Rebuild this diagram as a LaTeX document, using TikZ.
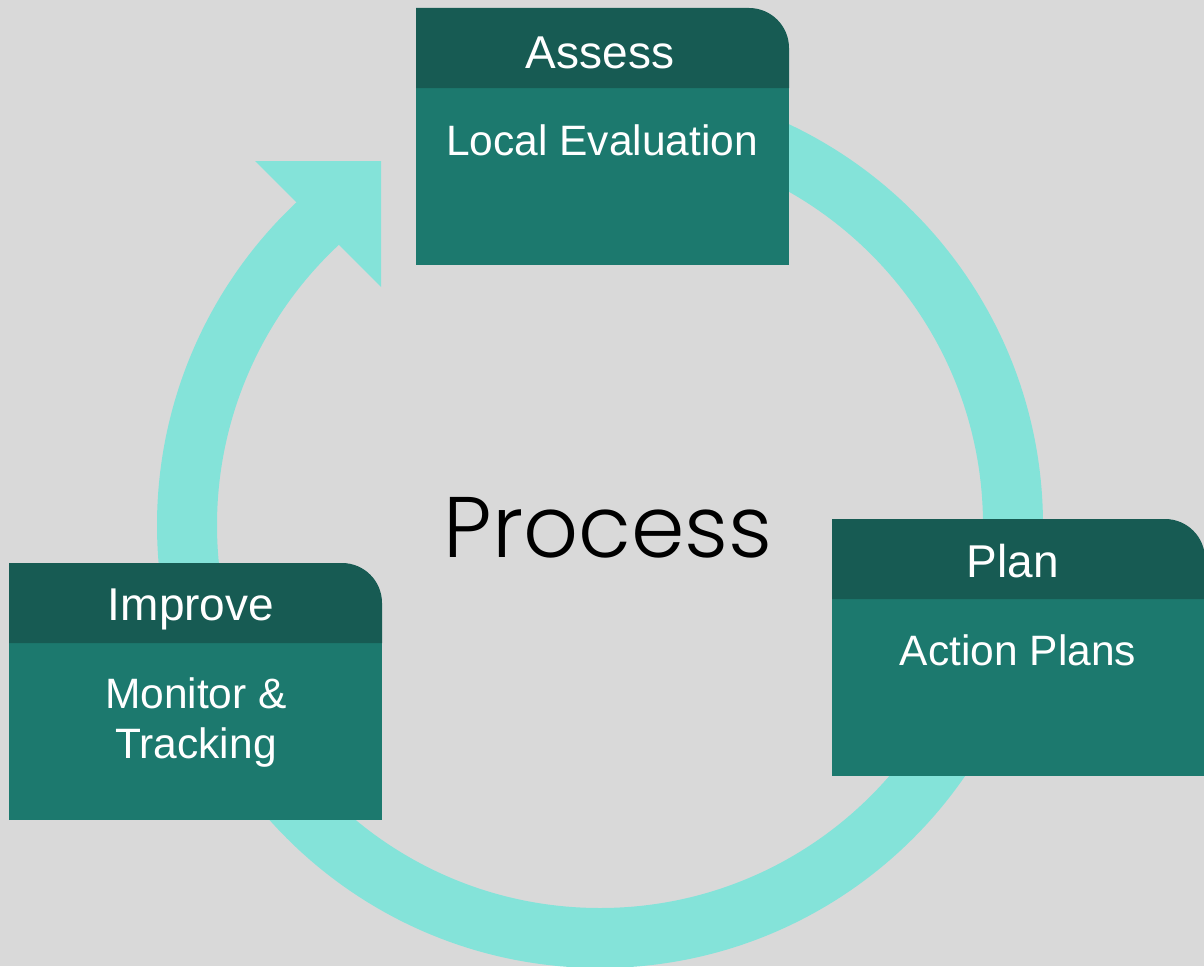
\documentclass[tikz,border=0pt]{standalone}
\usepackage{fontspec}
\setmainfont{Liberation Sans}
\newfontfamily\procfont{Poppins Light}
\definecolor{headcol}{HTML}{175B53}
\definecolor{bodycol}{HTML}{1C796E}
\definecolor{ringcol}{HTML}{84E3D9}
\definecolor{bgcol}{HTML}{D9D9D9}

% box with a dark title strip, rounded top right corner
\newcommand{\stagebox}[2]{%
\fill[bodycol] (#1,#2+80) rectangle (#1+373,#2+257);
\fill[headcol] (#1,#2+80) -- (#1,#2) -- (#1+333,#2)
  arc[start angle=-90,end angle=0,radius=40] -- (#1+373,#2+80) -- cycle;
}

\begin{document}
\begin{tikzpicture}[x=1pt,y=-1pt,
  headtxt/.style={text=white,anchor=base,inner sep=0pt,font=\fontsize{46}{50}\selectfont},
  bodytxt/.style={text=white,anchor=base,inner sep=0pt,align=center,font=\fontsize{42.5}{50}\selectfont}]
\useasboundingbox (0,0) rectangle (1204,966);
\fill[bgcol] (0,0) rectangle (1204,966);

% the ring and its head
\coordinate (c) at (600,525);
\draw[ringcol,line width=60pt] (c) ++(270:413) arc[start angle=270,end angle=589,radius=413];
\fill[ringcol] (255,161) -- (381,161) -- (381,287) -- cycle;

\node[font=\procfont\fontsize{86}{90}\selectfont,anchor=base,inner sep=0pt] (process) at (608,557) {Process};

\stagebox{416}{8}
\stagebox{832}{519}
\stagebox{9}{563}

\node[headtxt] (assess) at (600,68) {Assess};
\node[bodytxt] (local) at (602,155) {Local Evaluation};

\node[headtxt] (plan) at (1013,577) {Plan};
\node[bodytxt] (action) at (1018,665) {Action Plans};

\node[headtxt] (improve) at (191,620) {Improve};
\node[bodytxt] (monitor) at (196,758) {Monitor \&\\Tracking};
\end{tikzpicture}
\end{document}
